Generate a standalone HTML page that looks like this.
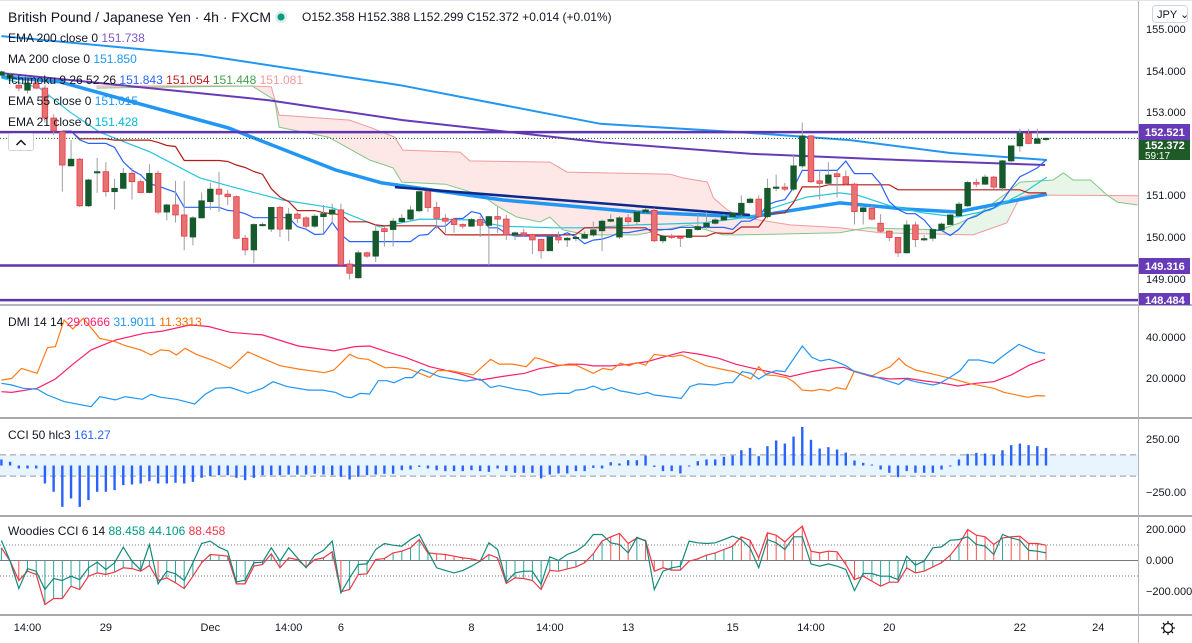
<!DOCTYPE html>
<html><head><meta charset="utf-8">
<style>
html,body{margin:0;padding:0;background:#fff;}
body{width:1192px;height:643px;overflow:hidden;font-family:"Liberation Sans",sans-serif;}
svg{display:block;}
text{font-family:"Liberation Sans",sans-serif;}
</style></head>
<body>
<svg id="chart" width="1192" height="643" viewBox="0 0 1192 643" xmlns="http://www.w3.org/2000/svg">
  <rect x="0" y="0" width="1192" height="643" fill="#ffffff"/>
  <defs>
    <clipPath id="clipMain"><rect x="0" y="0" width="1138" height="304"/></clipPath>
    <clipPath id="clipDmi"><rect x="0" y="306" width="1138" height="111"/></clipPath>
    <clipPath id="clipCci"><rect x="0" y="419" width="1138" height="96"/></clipPath>
    <clipPath id="clipW"><rect x="0" y="517" width="1138" height="97"/></clipPath>
  </defs>
  <g id="main" clip-path="url(#clipMain)"></g>
  <g id="dmi" clip-path="url(#clipDmi)"></g>
  <g id="cci" clip-path="url(#clipCci)"></g>
  <g id="wcci" clip-path="url(#clipW)"></g>

  <line x1="0" y1="305" x2="1192" y2="305" stroke="#b2b5be" stroke-width="2"/>
  <line x1="0" y1="418" x2="1192" y2="418" stroke="#50535e" stroke-width="1"/>
  <line x1="0" y1="516" x2="1192" y2="516" stroke="#50535e" stroke-width="1"/>
  <line x1="0" y1="615" x2="1192" y2="615" stroke="#50535e" stroke-width="1"/>
  <line x1="1138.5" y1="0" x2="1138.5" y2="643" stroke="#b2b5be" stroke-width="1"/>
  <line x1="0" y1="0.5" x2="1192" y2="0.5" stroke="#e0e3eb" stroke-width="1"/>

  <g font-size="12" fill="#131722">
    <text x="8" y="22" font-size="14" fill="#131722">British Pound / Japanese Yen · 4h · FXCM</text>
    <circle cx="281" cy="17" r="6" fill="#d9efe9"/>
    <circle cx="281" cy="17" r="3.5" fill="#089981"/>
    <text x="302" y="21" fill="#131722">O152.358 H152.388 L152.299 C152.372 +0.014 (+0.01%)</text>
    <text x="8" y="42">EMA 200 close 0 <tspan fill="#7e57c2">151.738</tspan></text>
    <text x="8" y="63">MA 200 close 0 <tspan fill="#2196f3">151.850</tspan></text>
    <text x="8" y="84">Ichimoku 9 26 52 26 <tspan fill="#2962ff">151.843</tspan> <tspan fill="#b71c1c">151.054</tspan> <tspan fill="#43a047">151.448</tspan> <tspan fill="#ef9a9a">151.081</tspan></text>
    <text x="8" y="105">EMA 55 close 0 <tspan fill="#2196f3">151.015</tspan></text>
    <text x="8" y="126">EMA 21 close 0 <tspan fill="#00bcd4">151.428</tspan></text>
    <rect x="8.5" y="133.5" width="25" height="17" rx="2" fill="#fff" stroke="#d1d4dc"/>
    <path d="M16.5 145 L21 140.5 L25.5 145" fill="none" stroke="#131722" stroke-width="1.5"/>
    <text x="8" y="326">DMI 14 14 <tspan fill="#ff1e6e">29.0666</tspan> <tspan fill="#2196f3">31.9011</tspan> <tspan fill="#ff6d00">11.3313</tspan></text>
    <text x="8" y="439">CCI 50 hlc3 <tspan fill="#2962ff">161.27</tspan></text>
    <text x="8" y="535">Woodies CCI 6 14 <tspan fill="#009688">88.458</tspan> <tspan fill="#009688">44.106</tspan> <tspan fill="#f23645">88.458</tspan></text>
  </g>

  <g font-size="11" fill="#131722">
    <rect x="1152.5" y="5.5" width="35" height="17" rx="3" fill="#fff" stroke="#d1d4dc"/>
    <text x="1157" y="18">JPY ⌄</text>
    <text x="1146" y="33">155.000</text>
    <text x="1146" y="75">154.000</text>
    <text x="1146" y="116">153.000</text>
    <text x="1146" y="199">151.000</text>
    <text x="1146" y="241">150.000</text>
    <text x="1146" y="283">149.000</text>
    <rect x="1139" y="124" width="51" height="16" fill="#673ab7"/>
    <text x="1145" y="136" fill="#fff" font-weight="bold">152.521</text>
    <rect x="1139" y="140" width="51" height="20" fill="#1e5b27"/>
    <text x="1145" y="149" fill="#fff" font-weight="bold">152.372</text>
    <text x="1145" y="159" fill="#fff" font-size="10">59:17</text>
    <rect x="1139" y="258" width="51" height="16" fill="#673ab7"/>
    <text x="1145" y="270" fill="#fff" font-weight="bold">149.316</text>
    <rect x="1139" y="293" width="51" height="12" fill="#673ab7"/>
    <text x="1145" y="304" fill="#fff" font-weight="bold">148.484</text>
    <text x="1146" y="341">40.0000</text>
    <text x="1146" y="382">20.0000</text>
    <text x="1146" y="443">250.00</text>
    <text x="1146" y="496">−250.00</text>
    <text x="1146" y="533">200.000</text>
    <text x="1146" y="564">0.000</text>
    <text x="1146" y="595">−200.000</text>
  </g>
  <g id="timeaxis" font-size="11" fill="#131722"></g>
  <g>
    <circle cx="1168" cy="628" r="4.5" fill="none" stroke="#131722" stroke-width="1.3"/>
    <path d="M1168 621v3M1168 632v3M1161 628h3M1172 628h3M1163 623l2 2M1171 631l2 2M1163 633l2-2M1171 625l2-2" stroke="#131722" stroke-width="1.3"/>
  </g>
</svg>
<script>
const opens=[153.89,153.82,153.65,153.53,153.70,153.58,152.86,152.53,151.71,151.87,150.75,151.55,151.57,151.09,151.17,151.53,151.33,151.07,151.53,150.6,150.77,150.53,150.0,150.46,150.85,151.15,151.03,150.97,149.97,149.69,150.28,150.19,150.71,150.19,150.55,150.46,150.26,150.49,150.55,150.65,149.35,149.02,149.62,149.54,150.2,150.18,150.37,150.43,150.63,151.09,150.71,150.45,150.43,150.3,150.26,150.42,150.28,150.49,150.43,150.05,150.1,150.06,149.94,149.67,150.0,149.93,149.97,149.97,150.05,150.15,150.38,150.0,150.46,150.37,150.6,150.64,149.91,150.02,150.0,149.99,150.18,150.25,150.33,150.41,150.49,150.55,150.83,150.91,150.49,151.17,151.2,151.15,151.71,152.43,151.35,151.29,151.52,151.45,151.27,150.61,150.69,150.33,150.14,149.99,149.62,150.29,149.93,149.97,150.17,150.3,150.51,150.75,151.31,151.27,151.44,151.18,151.83,152.19,152.49,152.25,152.358];
const highs=[154.0,153.95,153.72,153.75,153.78,153.65,152.95,152.55,152.33,151.9,151.4,151.9,151.8,151.4,151.66,151.66,151.38,151.75,151.6,150.8,151.35,151.35,150.5,151.07,151.3,151.56,151.13,151.0,150.05,150.33,150.35,150.72,150.75,150.7,150.6,150.5,150.55,150.77,150.8,150.8,149.45,149.68,149.65,150.3,150.25,150.45,150.55,150.75,151.1,151.12,150.85,150.55,150.45,150.33,150.45,150.5,150.5,150.72,150.53,150.13,150.2,150.08,149.96,150.0,150.13,150.0,150.1,150.13,150.37,150.42,150.55,150.5,150.55,150.63,150.7,150.7,150.05,150.08,150.0,150.2,150.55,150.6,150.45,150.55,150.6,151.0,150.95,151.0,151.4,151.5,151.3,152.0,152.75,152.45,151.6,151.8,151.6,151.6,151.3,150.72,150.8,150.55,150.16,150.0,150.4,150.37,150.05,150.2,150.35,150.55,150.85,151.35,151.4,151.5,151.47,151.85,152.2,152.6,152.6,152.6,152.388];
const lows=[153.85,153.75,153.5,153.45,153.55,152.75,152.45,151.09,151.70,150.72,150.72,151.06,150.97,150.66,151.15,150.9,151.05,151.05,150.55,150.4,150.35,149.68,149.8,150.45,150.65,150.6,150.77,149.95,149.56,149.37,150.25,150.12,150.0,149.9,150.33,150.17,150.22,150.1,150.32,149.32,148.98,149.0,149.5,149.4,149.77,149.77,150.35,150.4,150.6,150.6,150.2,150.1,150.1,150.2,150.25,150.0,149.32,150.1,149.93,149.93,150.0,149.59,149.48,149.67,149.85,149.76,149.9,149.95,150.0,149.66,150.35,149.95,150.3,150.3,150.55,149.88,149.85,149.95,149.76,149.98,150.15,150.2,150.3,150.38,150.45,150.5,150.8,150.45,150.45,151.1,151.1,151.1,151.65,151.3,150.9,151.25,150.95,151.25,150.3,150.3,150.4,150.1,149.9,149.52,149.6,149.76,149.9,149.9,150.15,150.3,150.5,150.72,151.2,151.25,151.15,151.1,151.8,152.05,152.23,152.25,152.299];
const closes=[153.97,153.9,153.58,153.70,153.58,152.86,152.55,151.73,151.87,150.75,151.37,151.57,151.09,151.17,151.53,151.33,151.07,151.53,150.6,150.77,150.53,150.02,150.46,150.87,151.15,151.03,150.97,149.97,149.69,150.3,150.30,150.71,150.19,150.55,150.45,150.26,150.5,150.56,150.65,149.33,149.13,149.62,149.54,150.14,150.13,150.38,150.45,150.65,151.09,150.71,150.45,150.38,150.3,150.26,150.42,150.28,150.49,150.43,150.05,150.1,150.05,149.93,149.67,150.0,149.93,149.97,149.99,150.06,150.17,150.38,150.42,150.46,150.37,150.6,150.65,149.91,150.02,149.99,149.98,150.18,150.25,150.33,150.41,150.49,150.57,150.81,150.91,150.49,151.17,151.2,151.15,151.71,152.43,151.33,151.29,151.49,151.45,151.27,150.61,150.7,150.43,150.14,149.99,149.62,150.29,149.94,149.96,150.18,150.31,150.53,150.79,151.31,151.27,151.44,151.2,151.83,152.19,152.49,152.25,152.36,152.372];

const hLevels=[152.521,149.316,148.484];
const lastPrice=152.372;

const ma200Idx=[0,22.8,45.8,68.8,84.8,97.5,109,120.1];
const ma200Val=[154.83,154.38,153.65,152.72,152.52,152.33,152.02,151.85];
const ema200Idx=[0,30.6,46.1,68.8,86,103.2,119.9];
const ema200Val=[153.94,153.29,152.81,152.28,152.0,151.85,151.73];
const ema55Idx=[0,6.7,14.3,26.1,38.4,43.7,57.6,73,86,96.3,104,109.8,120.1];
const ema55Val=[153.85,153.73,153.29,152.62,151.61,151.30,150.89,150.6,150.48,150.82,150.67,150.6,151.03];
const ema21Idx=[0,4.4,7.9,11.3,17.1,22.8,26.6,32.3,38.1,43.5,48.1,53.8,57.6,63.4,67.3,73,80.6,86,88.6,92.5,96.3,98.3,102.1,105.9,109.8,113.6,117.4,120.1];
const ema21Val=[153.82,153.58,153.0,152.52,152.04,151.42,151.2,150.89,150.7,150.24,150.43,150.41,150.26,150.22,150.22,150.29,150.34,150.48,150.7,150.96,151.06,151.01,150.75,150.58,150.48,150.65,151.06,151.44];
const leadBIdx=[10.9,28.8,31,31.9,40,42.3,45.2,46.1,52.7,53.8,63,65,76.8,78.3,81.1,81.8,83.4,84.9,90.6,96.3,100.9,111.6,115.5,117,118.2,130.6];
const leadBVal=[153.63,153.63,153.61,152.93,152.81,152.64,152.4,152.09,152.04,151.83,151.8,151.56,151.51,151.42,151.32,150.94,150.65,150.48,150.29,150.22,150.1,150.05,150.34,150.96,151.01,150.99];
const leadAIdx=[10.9,28.8,31.4,31.9,37.6,42.3,45,46,51,55.3,56.9,59.2,61.9,63,64.5,67.3,73,79.1,82.9,84.9,96.3,99.4,107.8,110.1,112.4,115.5,117,120.8,122,123.1,125.1,127,128.2,130.5];
const leadAVal=[153.58,153.63,153.29,152.64,152.4,151.85,151.66,151.32,151.27,150.99,150.75,150.48,150.36,150.48,150.17,150.05,150.05,150.29,150.05,150.05,150.1,150.22,150.17,150.34,150.58,151.06,151.32,151.37,151.54,151.37,151.37,151.01,150.84,150.77];
const trendIdx=[45.2,86];
const trendVal=[151.2,150.53];

const dmiOrangeIdx=[0,1.2,2.3,4.1,5.3,6.2,7.2,8.2,9.4,11.3,13.1,14.2,16,17.2,18.3,19.3,20.1,21.1,22.4,24.2,26.3,28.3,30,32,34.1,37.1,38.2,40,41,42.1,44.1,45.1,46.8,49.2,50.1,51.5,54.2,56.2,57.2,58.7,60.3,61.3,61.9,63.9,66,68,69.1,70.1,71.1,72.1,73,74,75,77.1,78.1,79.5,81,83.2,84.2,86.1,87,87.9,89,90.2,91,92,93.1,94.1,95.1,95.9,97,98,100,101.3,102.1,103.1,103.9,105,107,109.1,111.1,114,115.2,117.9,118.9,119.9];
const dmiOrangeVal=[19,19.8,24.7,22.3,34.8,35.3,48.3,43.9,49.1,39.3,37.7,35.8,33.7,31.2,33.7,33.3,31.2,34.5,31.5,28.8,24.7,32.8,29.6,26,24.4,22.6,23.9,31.5,29.6,29.1,25,25.2,24.4,20.3,23.6,23.6,21.5,29.1,26.8,26.8,25.5,29.9,29.3,26.3,26.3,22.3,24.7,23.9,27.2,26,27.5,26.3,31.5,30.4,31.2,28.8,25.9,23.9,23.1,19.5,25.5,21.5,21.1,20.2,18.2,14.1,13.7,14.5,13.7,15.3,14.5,23.4,21,23.9,25.5,29.6,26.3,23.9,21.9,19.8,17.4,15,13,10.6,11.4,11.2];
const dmiPinkIdx=[0,1.2,4.1,6.2,8.2,10.3,13.1,16.4,18.5,21.7,23.8,26.3,30,34.1,38.2,40.6,42.3,44.3,46.4,49.2,52.5,55,57.4,60.1,61.9,65.2,66.8,68,70.1,72.1,74.2,76.2,78.3,80.3,82.4,84.4,86.1,87.3,89,90.6,93.1,95.1,96.8,98,100,102.1,104.1,106.2,107.8,109.9,111.9,114,116,118.1,119.9];
const dmiPinkVal=[13.3,13,15,19.5,26.7,33.7,38.5,41.8,42.9,45.9,45.1,42.3,41,35.6,33.2,35.3,35.6,32.8,30.1,25.5,22.3,19,20.7,22.3,24.7,26.8,26.7,25.9,25.9,26.7,28,30.4,32.8,31.5,29.6,26.7,25,23.9,22.3,20.7,23.1,24.7,25.2,23.1,20.7,19.5,19.8,18.5,17.7,16.1,17.4,18.2,21.5,26.3,29.1];
const dmiBlueIdx=[0,1.2,2.5,4.1,5.3,7.2,10.3,11.3,13.1,14.2,16.2,17.2,18.3,20.1,22.2,23.4,24.6,26.3,28.3,30,31.2,32.8,35.3,36.9,38.4,39.4,40.2,41.2,42.3,43.3,44.3,45.1,46.4,47.2,48.2,49.2,50.3,53.3,55,56.2,57.2,59.1,60.5,61.9,63.9,65.2,66,67,68,69.1,70.1,71.1,72.1,73.2,74.2,75,78.1,79.1,80.1,82,83.2,84,85.1,86.1,87,87.9,89,90,92,93.1,94.1,95.1,95.9,97,98,100,102.1,103.1,103.9,105,107,107.8,109.1,110.1,111.1,112.3,114,115.2,116.9,118.9,119.9];
const dmiBlueVal=[17.4,16.6,15,14.6,11.7,8.5,6,10.9,9.3,10.9,9.6,12,10.6,9.6,7.3,12,15,15.4,12.5,15,18.2,15.8,14.1,14.1,13,10.9,10.4,12.5,12.2,18.7,18.7,17.7,20.2,20.2,24.2,22.6,20.7,18.5,19.5,15.3,16.3,14.5,13.7,11.7,12.5,12.5,14.1,14.5,16.1,14.1,15.3,13.7,13,12,13,11.7,10.1,15.8,17.1,16.6,17.7,17.7,23.1,22.3,19.5,21.9,23.6,23.1,35.6,30.1,28.3,29.1,28,26,23.1,21.1,18.2,16.9,19.5,18.2,16.6,17.4,20.7,23.4,28.8,28.8,27.2,31.2,36.4,32.8,32];

const cciVals=[57,35,-28,-28,-28,-170,-248,-390,-311,-390,-327,-248,-248,-232,-185,-179,-170,-148,-170,-170,-163,-170,-154,-116,-100,-91,-91,-116,-138,-116,-91,-91,-91,-85,-85,-85,-78,-85,-91,-107,-132,-107,-91,-85,-78,-78,-44,-38,-13,-28,-44,-53,-53,-53,-44,-53,-60,-28,-53,-69,-69,-69,-122,-85,-75,-75,-53,-53,-22,-28,31,19,50,50,94,-13,-53,-53,-75,-6,41,57,57,82,94,144,166,88,182,236,207,273,364,242,160,173,151,122,47,25,9,-38,-69,-110,-53,-69,-69,-69,-38,-6,57,110,119,113,104,144,192,207,192,182,166];
const cciBand=[100,-100];

const wRed=[82,-4,-129,-69,-90,-284,-245,-245,-166,-187,-101,-80,-90,-75,-47,-52,-69,-32,-129,-112,-144,-181,-101,-15,39,34,28,-151,-151,-37,-26,43,-47,17,6,-43,6,17,56,-202,-187,-90,-86,6,13,49,60,82,135,49,43,39,28,17,11,-4,39,17,-148,-112,-116,-129,-187,-64,-69,-54,-41,-15,43,125,153,174,110,146,129,-69,-47,-62,-62,-4,11,34,49,71,92,153,131,17,178,163,120,174,221,60,49,60,56,-26,-123,-101,-133,-166,-140,-140,-47,-80,-69,-41,-15,34,103,200,163,153,103,146,153,157,110,110,99];
const wTeal=[129,-4,-181,-52,-69,-187,-116,-129,-101,-123,-47,-11,-58,-15,86,-4,-62,103,-151,-69,-86,-129,-15,110,125,86,60,-138,-127,-15,-11,82,-4,82,17,-47,34,65,125,-209,-112,-26,-22,71,110,99,92,135,168,60,-47,-64,-80,-64,-37,-4,114,71,-138,-80,-69,-69,-155,24,0,39,60,99,168,168,114,103,49,150,125,-187,-69,-47,-37,125,114,110,114,135,157,135,82,-47,135,114,71,153,153,-22,-37,-22,-37,-58,-194,-84,-84,-101,-101,-123,28,-30,-4,82,88,131,135,153,103,92,39,168,146,131,65,60,49];
const wLevels=[100,-100];

const timeLabels=["14:00","29","Dec","14:00","6","8","14:00","13","15","14:00","20","22","24"];
const timeLabelIdx=[3,12,24,33,39,54,63,72,84,93,102,117,126];

const NS="http://www.w3.org/2000/svg";
function X(i){return 1.4+i*8.705;}
function yP(p){return 29+(155-p)*41.6;}
function yD(v){return 337+(40-v)*2.05;}
function yC(v){return 465.5-v*0.106;}
function yW(v){return 560.5-v*0.155;}
function mk(tag,attrs,parent){const e=document.createElementNS(NS,tag);for(const k in attrs)e.setAttribute(k,attrs[k]);parent.appendChild(e);return e;}
function pathD(idx,vals,yf){let d="";for(let i=0;i<idx.length;i++){d+=(i?"L":"M")+X(idx[i]).toFixed(1)+" "+yf(vals[i]).toFixed(1);}return d;}
function interp(idx,vals,t){if(t<=idx[0])return vals[0];for(let i=1;i<idx.length;i++){if(t<=idx[i]){const f=(t-idx[i-1])/(idx[i]-idx[i-1]);return vals[i-1]+f*(vals[i]-vals[i-1]);}}return vals[vals.length-1];}

const gMain=document.getElementById("main");
const gDmi=document.getElementById("dmi");
const gCci=document.getElementById("cci");
const gW=document.getElementById("wcci");

const cloudStart=Math.max(leadAIdx[0],leadBIdx[0]);
const cloudEnd=Math.min(leadAIdx[leadAIdx.length-1],leadBIdx[leadBIdx.length-1]);
for(let t=cloudStart;t<cloudEnd;t+=0.25){
  const a0=interp(leadAIdx,leadAVal,t),b0=interp(leadBIdx,leadBVal,t);
  const a1=interp(leadAIdx,leadAVal,t+0.25),b1=interp(leadBIdx,leadBVal,t+0.25);
  const bull=(a0+a1)>(b0+b1);
  const q=mk("polygon",{points:`${X(t)},${yP(a0)} ${X(t+0.25)+0.3},${yP(a1)} ${X(t+0.25)+0.3},${yP(b1)} ${X(t)},${yP(b0)}`,fill:bull?"#e8f5e9":"#fde7e7"},gMain);
  
  
}
let el;
el=mk("path",{d:pathD(leadBIdx,leadBVal,yP),fill:"none",stroke:"#ef9a9a",'stroke-width':1},gMain);


el=mk("path",{d:pathD(leadAIdx,leadAVal,yP),fill:"none",stroke:"#81c784",'stroke-width':1},gMain);



el=mk("path",{d:pathD(ma200Idx,ma200Val,yP),fill:"none",stroke:"#2196f3",'stroke-width':2},gMain);


el=mk("path",{d:pathD(ema200Idx,ema200Val,yP),fill:"none",stroke:"#673ab7",'stroke-width':2},gMain);


el=mk("path",{d:pathD(ema55Idx,ema55Val,yP),fill:"none",stroke:"#2196f3",'stroke-width':3.5,'stroke-linejoin':'round'},gMain);


el=mk("path",{d:pathD(trendIdx,trendVal,yP),fill:"none",stroke:"#0d2a8a",'stroke-width':2.5},gMain);


el=mk("path",{d:pathD(ema21Idx,ema21Val,yP),fill:"none",stroke:"#26c6da",'stroke-width':1.2},gMain);



function donchian(n){const idx=[],val=[];for(let i=0;i<closes.length;i++){let h=-1e9,l=1e9;for(let j=Math.max(0,i-n+1);j<=i;j++){h=Math.max(h,highs[j]);l=Math.min(l,lows[j]);}idx.push(i);val.push((h+l)/2);}return [idx,val];}
const kj=donchian(26), tk=donchian(9);
el=mk("path",{d:pathD(kj[0].slice(7),kj[1].slice(7),yP),fill:"none",stroke:"#b71c1c",'stroke-width':1.2},gMain);


el=mk("path",{d:pathD(tk[0].slice(7),tk[1].slice(7),yP),fill:"none",stroke:"#2962ff",'stroke-width':1.2},gMain);



hLevels.forEach(function(p){
  const l=mk("line",{x1:0,x2:1138,y1:yP(p),y2:yP(p),stroke:"#5e35b1",'stroke-width':2.5},gMain);
  
  
});
el=mk("line",{x1:0,x2:1138,y1:yP(lastPrice),y2:yP(lastPrice),stroke:"#1e5b27",'stroke-width':1,'stroke-dasharray':'1 2'},gMain);



for(let i=0;i<closes.length;i++){
  const up=closes[i]>=opens[i];
  const x=X(i);
  const w=mk("line",{x1:x,x2:x,y1:yP(highs[i]),y2:yP(lows[i]),stroke:"#9e9e9e",'stroke-width':1},gMain);
  
  
  const top=yP(Math.max(opens[i],closes[i])),bot=yP(Math.min(opens[i],closes[i]));
  const b=mk("rect",{x:x-2.8,y:top,width:5.6,height:Math.max(1.2,bot-top),fill:up?"#145a2c":"#e57373",stroke:up?"#145a2c":"#f23645",'stroke-width':0.8},gMain);
  
  
}

[[dmiPinkIdx,dmiPinkVal,"#ff1e6e","dmi-adx-line"],[dmiOrangeIdx,dmiOrangeVal,"#ff7b1a","dmi-minus-di-line"],[dmiBlueIdx,dmiBlueVal,"#2196f3","dmi-plus-di-line"]].forEach(function(s){
  const p=mk("path",{d:pathD(s[0],s[1],yD),fill:"none",stroke:s[2],'stroke-width':1.2},gDmi);
  
  
});

el=mk("rect",{x:0,y:yC(cciBand[0]),width:1138,height:yC(cciBand[1])-yC(cciBand[0]),fill:"#2196f3",'fill-opacity':0.1},gCci);


cciBand.forEach(function(v){
  const l=mk("line",{x1:0,x2:1138,y1:yC(v),y2:yC(v),stroke:"#9598a1",'stroke-dasharray':'6 4','stroke-width':1},gCci);
  
  
});
cciVals.forEach(function(v,i){
  const y0=yC(0),y1=yC(v);
  const r=mk("rect",{x:X(i)-1.2,y:Math.min(y0,y1),width:2.4,height:Math.max(1,Math.abs(y1-y0)),fill:"#2962ff"},gCci);
  
  
});

wLevels.forEach(function(v){
  const l=mk("line",{x1:0,x2:1138,y1:yW(v),y2:yW(v),stroke:"#787b86",'stroke-dasharray':'1 2','stroke-width':1},gW);
  
  
});
el=mk("line",{x1:0,x2:1138,y1:yW(0),y2:yW(0),stroke:"#787b86",'stroke-width':1},gW);


wRed.forEach(function(v,i){
  const col=wTeal[i]>v?"#26a69a":"#ef5350";
  const l=mk("line",{x1:X(i),x2:X(i),y1:yW(0),y2:yW(v),stroke:col,'stroke-width':1},gW);
  
  
});
const allIdx=wRed.map(function(_,i){return i;});
el=mk("path",{d:pathD(allIdx,wRed,yW),fill:"none",stroke:"#f23645",'stroke-width':1.2},gW);


el=mk("path",{d:pathD(allIdx,wTeal,yW),fill:"none",stroke:"#13897b",'stroke-width':1.2},gW);



const gT=document.getElementById("timeaxis");
timeLabels.forEach(function(s,k){
  const t=mk("text",{x:X(timeLabelIdx[k]),y:631,'text-anchor':'middle'},gT);
  t.textContent=s;
  
  
});
</script>
</body></html>
